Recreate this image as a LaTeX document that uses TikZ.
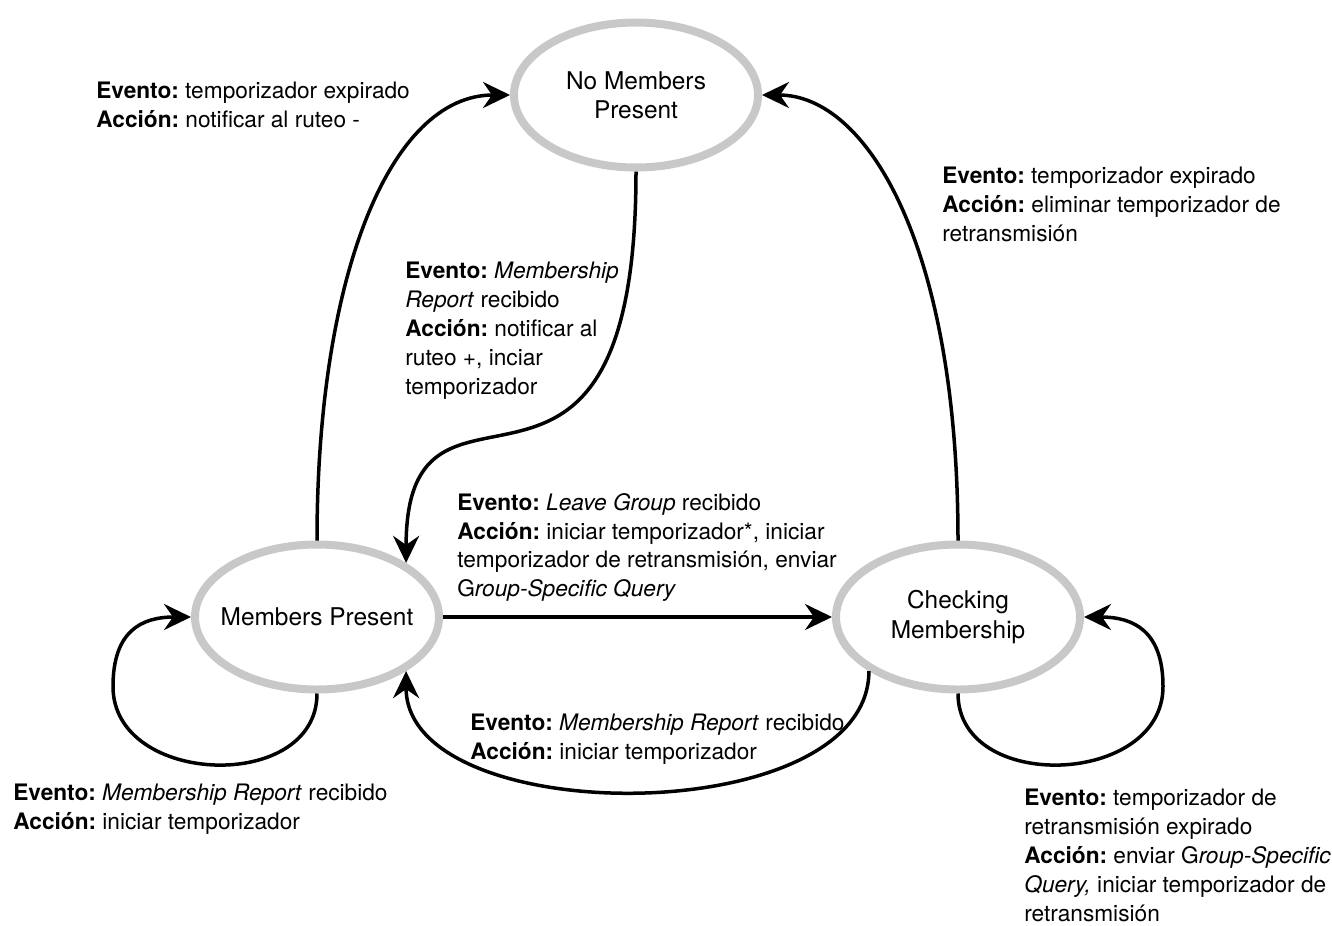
\documentclass[tikz,border=0pt]{standalone}
\usepackage{fontspec}
\setmainfont{TeX Gyre Heros}
\usetikzlibrary{arrows.meta, shapes.geometric}
\definecolor{stateline}{HTML}{C8C8C8}
\definecolor{arrowink}{HTML}{000000}

\newcommand{\evento}{\textbf{Evento:}}
\newcommand{\accion}{\textbf{Acción:}}
\frenchspacing

\begin{document}
\begin{tikzpicture}[
    state/.style={
        ellipse,
        draw=stateline,
        line width=0.16cm,
        minimum width=4.88cm,
        minimum height=2.9cm,
        inner xsep=-0.3cm,
        inner ysep=0pt,
        fill=white,
        align=center,
        font=\fontsize{13.9}{16.6}\selectfont
    },
    trans/.style={
        -{Stealth[length=5.4mm,width=5.2mm,inset=1.8mm]},
        line width=0.07cm,
        draw=arrowink
    },
    label/.style={
        anchor=north west,
        inner sep=0pt,
        align=left,
        font=\fontsize{12.9}{16.4}\selectfont
    }
]
\useasboundingbox (0,0) rectangle (26.64,-18.5);

% ------------------------------------------------
% States
% ------------------------------------------------
\node[state] (nmp) at (12.72,-1.9)  {No Members\\Present};
\node[state] (mp)  at (6.34,-12.34) {Members Present};
\node[state] (chk) at (19.16,-12.34) {Checking\\Membership};

% ------------------------------------------------
% Transitions
% ------------------------------------------------
\draw[trans] (mp.north) .. controls +(90:5.3) and +(180:2.4) .. (nmp.west);
\draw[trans] (nmp.south) .. controls +(-90:8.2) and +(90:4.7) .. (mp.north east);
\draw[trans] (chk.north) .. controls +(90:5.9) and +(0:2.1) .. (nmp.east);
\draw[trans] (mp.east) -- (chk.west);
\draw[trans] (chk.south west) .. controls +(-90:3.2) and +(-90:3.2) .. (mp.south east);

% self loops
\draw[trans] (mp.south) .. controls +(-90:2) and +(-90:2) .. ++(-4.08,0.14)
    .. controls +(90:1.1) and +(180:1.0) .. (mp.west);
\draw[trans] (chk.south) .. controls +(-90:2) and +(-90:2) .. ++(4.1,0.14)
    .. controls +(90:1.1) and +(0:1.0) .. (chk.east);

% ------------------------------------------------
% Labels
% ------------------------------------------------
\node[label] (lab1) at (1.92,-1.64) {\evento{} temporizador expirado\\
\accion{} notificar al ruteo -};

\node[label] (lab2) at (8.10,-5.24) {\evento{} \textit{Membership}\\
\textit{Report} recibido\\
\accion{} notificar al\\
ruteo +, inciar\\
temporizador};

\node[label] (lab3) at (18.84,-3.34) {\evento{} temporizador expirado\\
\accion{} eliminar temporizador de\\
retransmisión};

\node[label] (lab4) at (9.14,-9.86) {\evento{} \textit{Leave Group} recibido\\
\accion{} iniciar temporizador*, iniciar\\
temporizador de retransmisión, enviar\\
G\textit{roup-Specific Query}};

\node[label] (lab5) at (9.40,-14.28) {\evento{} \textit{Membership Report} recibido\\
\accion{} iniciar temporizador};

\node[label] (lab6) at (0.26,-15.68) {\evento{} \textit{Membership Report} recibido\\
\accion{} iniciar temporizador};

\node[label] (lab7) at (20.48,-15.78) {\evento{} temporizador de\\
retransmisión expirado\\
\accion{} enviar G\textit{roup-Specific}\\
\textit{Query,} iniciar temporizador de\\
retransmisión};

\end{tikzpicture}
\end{document}
